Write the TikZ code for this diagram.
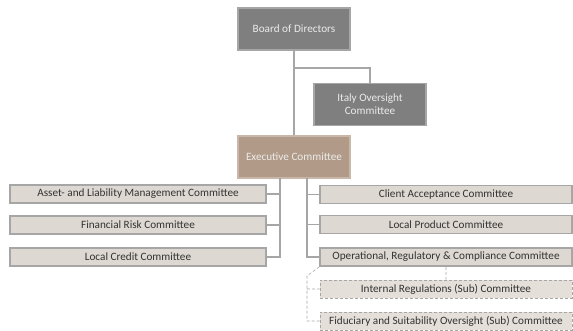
\documentclass[tikz,border=0pt]{standalone}
\usepackage{fontspec}
\setmainfont{Carlito}
\usetikzlibrary{positioning}

\definecolor{darkbox}{HTML}{7F7F7F}
\definecolor{darkline}{HTML}{A6A6A6}
\definecolor{execfill}{HTML}{B19B88}
\definecolor{execline}{HTML}{C9B8AA}
\definecolor{lightfill}{HTML}{DDD8D1}
\definecolor{subfill}{HTML}{E4DFD9}
\definecolor{txt}{HTML}{333333}

\begin{document}
\begin{tikzpicture}[x=1pt,y=-1pt,font=\fontsize{11.2}{13}\selectfont,
                    topbox/.style={draw=darkline,line width=1.5pt,fill=darkbox,text=white!92!black,
                      minimum width=112pt,minimum height=42pt,align=center,inner sep=2pt},
                    execbox/.style={topbox,draw=execline,fill=execfill},
                    combox/.style={draw=darkline,line width=1.5pt,fill=lightfill,text=txt,
                      minimum height=18pt,inner sep=1pt},
                    subbox/.style={draw=darkline,densely dashed,line width=0.6pt,fill=subfill,text=txt,
                      minimum width=252pt,minimum height=18pt,inner sep=1pt},
                    conn/.style={draw=darkline,line width=1.5pt},
                    dconn/.style={draw=darkline,densely dashed,line width=0.6pt}]
  \useasboundingbox (0,0) rectangle (573,331);

  \node[topbox]  (board) at (294,29)    {Board of Directors};
  \node[topbox]  (italy) at (370,104.5) {Italy Oversight\\Committee};
  \node[execbox] (exec)  at (294,157)   {Executive Committee};

  % left column
  \node[combox,minimum width=256pt] (alm) at (138,194) {Asset- and Liability Management Committee};
  \node[combox,minimum width=256pt] (frc) at (138,225) {Financial Risk Committee};
  \node[combox,minimum width=256pt] (lcc) at (138,257) {Local Credit Committee};

  % right column
  \node[combox,minimum width=252pt] (cac) at (446,194.5) {Client Acceptance Committee};
  \node[combox,minimum width=252pt] (lpc) at (446,224.5) {Local Product Committee};
  \node[combox,minimum width=252pt] (orc) at (446,257)   {Operational, Regulatory \& Compliance Committee};

  \node[subbox] (irc) at (446,289) {Internal Regulations (Sub) Committee};
  \node[subbox] (fid) at (446,321) {Fiduciary and Suitability Oversight (Sub) Committee};

  \coordinate (split) at (294,68);
  \coordinate (lbus)  at (280,178);
  \coordinate (rbus)  at (307,178);
  \coordinate (dbus)  at (307,276);

  \path[conn] (board.south) -- (exec.north);
  \path[conn] (split) -| (italy.north);
  \path[conn] (lbus) |- (alm.east)
              (lbus) |- (frc.east)
              (lbus) |- (lcc.east);
  \path[conn] (rbus) |- (cac.west)
              (rbus) |- (lpc.west)
              (rbus) |- (orc.west);
  \path[dconn] (orc.south west) -- (dbus) |- (fid.west)
               (dbus |- irc.west) -- (irc.west)
               (orc.south) -- (irc.north);
\end{tikzpicture}
\end{document}
